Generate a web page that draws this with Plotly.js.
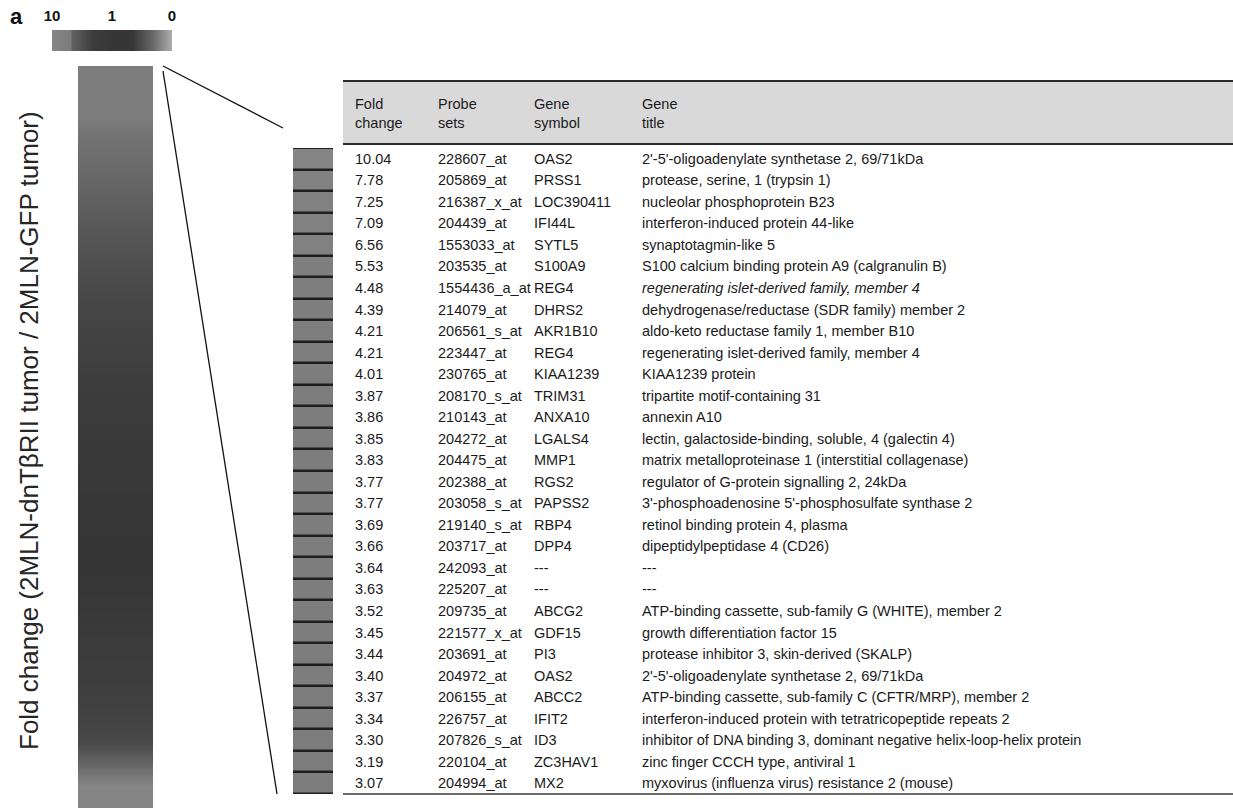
<!DOCTYPE html>
<html><head><meta charset="utf-8">
<script src="https://cdn.plot.ly/plotly-3.0.1.min.js"></script>
<style>html,body{margin:0;padding:0;background:#fff}</style>
</head><body><div id="chart" style="width:1233px;height:811px"></div>
<script>
// ---- data ----
const foldChange = [10.04,7.78,7.25,7.09,6.56,5.53,4.48,4.39,4.21,4.21,4.01,3.87,3.86,3.85,3.83,3.77,3.77,3.69,3.66,3.64,3.63,3.52,3.45,3.44,3.40,3.37,3.34,3.30,3.19,3.07];
const probeSets = ["228607_at","205869_at","216387_x_at","204439_at","1553033_at","203535_at","1554436_a_at","214079_at","206561_s_at","223447_at","230765_at","208170_s_at","210143_at","204272_at","204475_at","202388_at","203058_s_at","219140_s_at","203717_at","242093_at","225207_at","209735_at","221577_x_at","203691_at","204972_at","206155_at","226757_at","207826_s_at","220104_at","204994_at"];
const geneSymbols = ["OAS2","PRSS1","LOC390411","IFI44L","SYTL5","S100A9","REG4","DHRS2","AKR1B10","REG4","KIAA1239","TRIM31","ANXA10","LGALS4","MMP1","RGS2","PAPSS2","RBP4","DPP4","---","---","ABCG2","GDF15","PI3","OAS2","ABCC2","IFIT2","ID3","ZC3HAV1","MX2"];
const geneTitles = [
 "2'-5'-oligoadenylate synthetase 2, 69/71kDa",
 "protease, serine, 1 (trypsin 1)",
 "nucleolar phosphoprotein B23",
 "interferon-induced protein 44-like",
 "synaptotagmin-like 5",
 "S100 calcium binding protein A9 (calgranulin B)",
 "<i>regenerating islet-derived family, member 4</i>",
 "dehydrogenase/reductase (SDR family) member 2",
 "aldo-keto reductase family 1, member B10",
 "regenerating islet-derived family, member 4",
 "KIAA1239 protein",
 "tripartite motif-containing 31",
 "annexin A10",
 "lectin, galactoside-binding, soluble, 4 (galectin 4)",
 "matrix metalloproteinase 1 (interstitial collagenase)",
 "regulator of G-protein signalling 2, 24kDa",
 "3'-phosphoadenosine 5'-phosphosulfate synthase 2",
 "retinol binding protein 4, plasma",
 "dipeptidylpeptidase 4 (CD26)",
 "---",
 "---",
 "ATP-binding cassette, sub-family G (WHITE), member 2",
 "growth differentiation factor 15",
 "protease inhibitor 3, skin-derived (SKALP)",
 "2'-5'-oligoadenylate synthetase 2, 69/71kDa",
 "ATP-binding cassette, sub-family C (CFTR/MRP), member 2",
 "interferon-induced protein with tetratricopeptide repeats 2",
 "inhibitor of DNA binding 3, dominant negative helix-loop-helix protein",
 "zinc finger CCCH type, antiviral 1",
 "myxovirus (influenza virus) resistance 2 (mouse)"
];
const headerLabels = ["Fold<br>change","Probe<br>sets","Gene<br>symbol","Gene<br>title"];
// colour key, left (10) to right (0)
const legendSteps = [10, 2.2, 1.2, 1, 1, 0.6, 0];
const legendTickIndex = [0, 3, 6];
const legendTickLabels = ["10","1","0"];
// overview of all probe sets, sorted by fold change (top to bottom), read from the gradient
const overviewFold = [3.4, 2.8, 2.4, 2.0, 1.7, 1.45, 1.3, 1.18, 1.1, 1.05, 1.02, 1.0, 0.98, 0.95, 0.92, 0.85, 0.35];
const panelLabel = "a";
const yTitle = "Fold change (2MLN-dnTβRII tumor / 2MLN-GFP tumor)";

// ---- layout helpers (pixels -> paper) ----
const W = 1233, H = 811;
const px = v => v / W;
const py = v => 1 - v / H;
const colX = [353, 436, 532, 640];
const FONT = "Liberation Sans, Arial, sans-serif";
const TXT = "#1a1a1a";
const TFS = 14.5;

const grayScale = [[0, "#b0b0b0"], [0.1, "#363636"], [0.2, "#5a5a5a"], [0.3, "#7c7c7c"], [1, "#858585"]];

const traces = [
  { type: "heatmap", z: [legendSteps], x: legendSteps.map((_, i) => i), y: [0], xaxis: "x", yaxis: "y",
    colorscale: grayScale, zmin: 0, zmax: 10, zsmooth: "best", showscale: false, hoverinfo: "skip" },
  { type: "heatmap", z: overviewFold.map(v => [v]), x: [0], y: overviewFold.map((_, i) => i), xaxis: "x2", yaxis: "y2",
    colorscale: grayScale, zmin: 0, zmax: 10, zsmooth: "best", showscale: false, hoverinfo: "skip" },
  { type: "heatmap", z: foldChange.map(v => [v]), x: [0], y: foldChange.map((_, i) => i), xaxis: "x3", yaxis: "y3",
    colorscale: grayScale, zmin: 0, zmax: 10, ygap: 2.5, showscale: false, hoverinfo: "skip" }
];

const annotations = [];
annotations.push({ xref: "paper", yref: "paper", x: px(8), y: py(16), xanchor: "left", yanchor: "middle",
  text: "<b>" + panelLabel + "</b>", showarrow: false, font: { family: FONT, size: 22, color: "#111" } });
annotations.push({ xref: "paper", yref: "paper", x: px(29), y: py(431), xanchor: "center", yanchor: "middle",
  text: yTitle, textangle: -90, showarrow: false, font: { family: FONT, size: 26, color: "#262626" } });
headerLabels.forEach((h, c) => annotations.push({ xref: "paper", yref: "paper", x: px(colX[c]), y: py(113),
  xanchor: "left", yanchor: "middle", align: "left", text: h, showarrow: false,
  font: { family: FONT, size: TFS, color: TXT } }));
const cols = [foldChange.map(v => v.toFixed(2)), probeSets, geneSymbols, geneTitles];
cols.forEach((col, c) => col.forEach((t, r) => annotations.push({ xref: "paper", yref: "y3", x: px(colX[c]), y: r,
  xanchor: "left", yanchor: "middle", text: t, showarrow: false, font: { family: FONT, size: TFS, color: TXT } })));

const shapes = [
  { type: "rect", xref: "paper", yref: "paper", x0: px(343), x1: 1, y0: py(143), y1: py(81), fillcolor: "#d9d9d9", line: { width: 0 }, layer: "below" },
  { type: "line", xref: "paper", yref: "paper", x0: px(343), x1: 1, y0: py(81), y1: py(81), line: { color: "#2a2a2a", width: 2 } },
  { type: "line", xref: "paper", yref: "paper", x0: px(343), x1: 1, y0: py(144), y1: py(144), line: { color: "#2a2a2a", width: 2 } },
  { type: "line", xref: "paper", yref: "paper", x0: px(343), x1: 1, y0: py(794), y1: py(794), line: { color: "#3a3a3a", width: 1.5 } },
  { type: "line", xref: "paper", yref: "paper", x0: px(163), x1: px(283), y0: py(66), y1: py(128), line: { color: "#111", width: 1.3 } },
  { type: "line", xref: "paper", yref: "paper", x0: px(163), x1: px(277), y0: py(71), y1: py(794), line: { color: "#111", width: 1.3 } }
];

const hidden = { showgrid: false, zeroline: false, showticklabels: false, ticks: "", fixedrange: true };
const layout = {
  width: W, height: H, margin: { l: 0, r: 0, t: 0, b: 0 },
  paper_bgcolor: "#ffffff", plot_bgcolor: "#1e1e1e", showlegend: false,
  xaxis: { domain: [px(52), px(172)], range: [0, legendSteps.length - 1], side: "top", showgrid: false, zeroline: false, ticks: "",
    tickvals: legendTickIndex, ticktext: legendTickLabels.map(t => "<b>" + t + "</b>"), ticklabelstandoff: 5,
    tickfont: { family: FONT, size: 15, color: "#111" }, anchor: "y", fixedrange: true },
  yaxis: Object.assign({ domain: [py(51), py(30)], anchor: "x" }, hidden),
  xaxis2: Object.assign({ domain: [px(78), px(153)], anchor: "y2" }, hidden),
  yaxis2: Object.assign({ domain: [py(808), py(66)], autorange: "reversed", anchor: "x2" }, hidden),
  xaxis3: Object.assign({ domain: [px(293), px(333)], anchor: "y3" }, hidden),
  yaxis3: Object.assign({ domain: [py(794), py(148)], range: [foldChange.length - 0.5, -0.5], anchor: "x3" }, hidden),
  annotations: annotations, shapes: shapes
};
Plotly.newPlot("chart", traces, layout, { staticPlot: true, displayModeBar: false });
</script></body></html>
